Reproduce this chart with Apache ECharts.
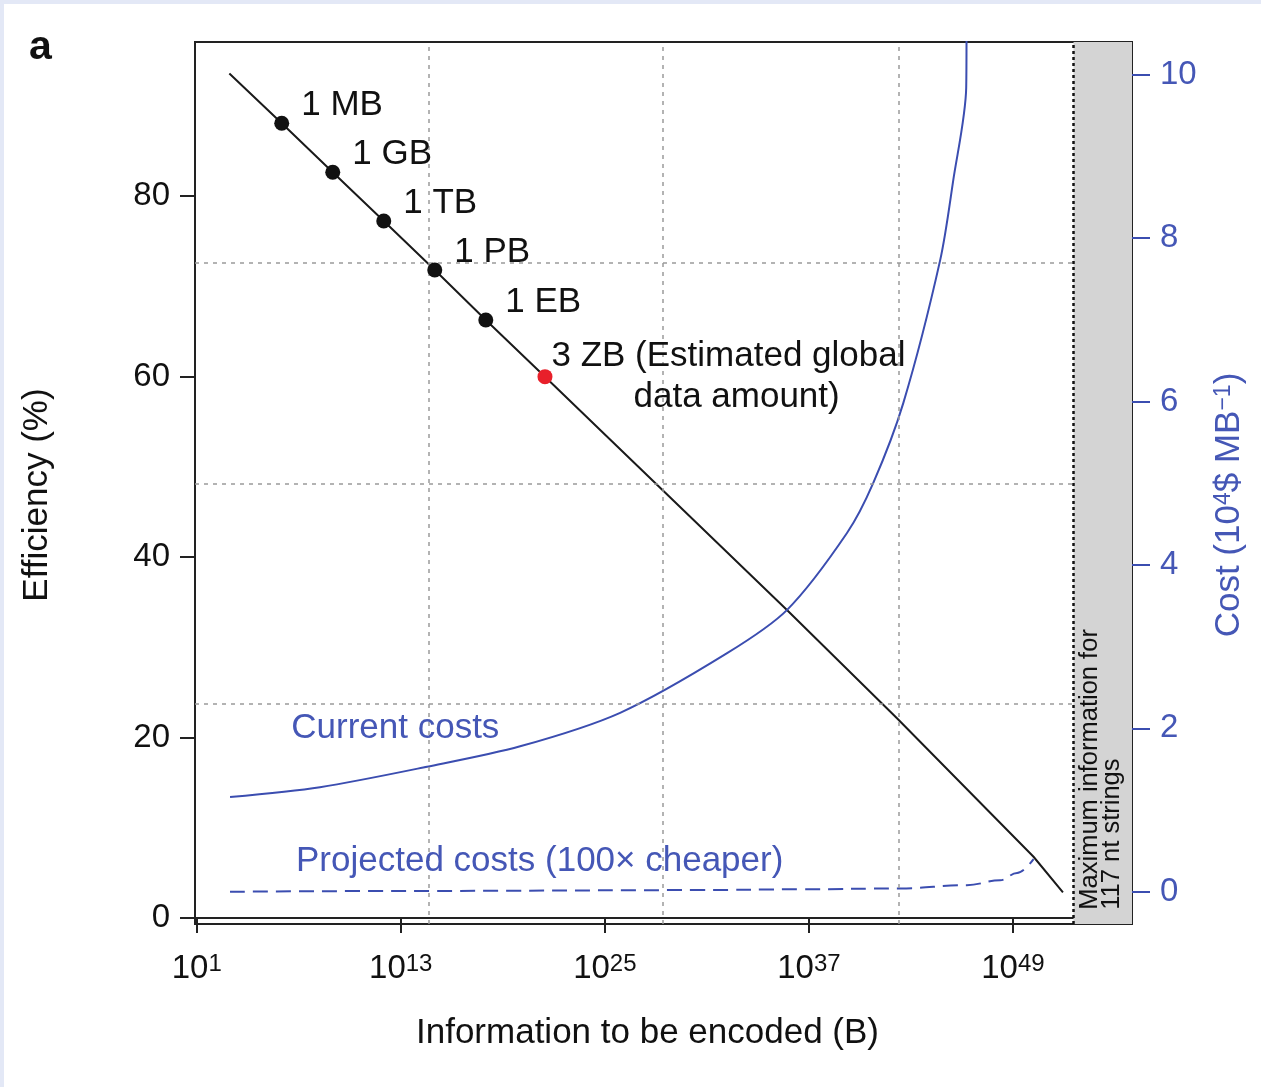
<!DOCTYPE html>
<html>
<head>
<meta charset="utf-8">
<title>Efficiency and cost vs information encoded</title>
<script src="https://cdn.jsdelivr.net/npm/echarts@6/dist/echarts.min.js"></script>
<style>
  html, body { margin: 0; padding: 0; background: #e3e8f6; }
  #panel { position: absolute; left: 4px; top: 4px; right: 0; bottom: 0; background: #fff; }
  #chart { position: absolute; left: 0; top: 0; width: 1261px; height: 1087px; }
</style>
</head>
<body>
<div id="panel"></div>
<div id="chart"></div>
<script>
// x axis holds log10 of bytes
const infoTicks = [1, 13, 25, 37, 49];
const effTicks = [0, 20, 40, 60, 80];
const costTicks = [0, 2, 4, 6, 8, 10];

// efficiency curve (log10 B, %)
const effLogB = [2.92, 6, 9, 12, 15, 18, 21.48, 35.71, 42.18, 50.21, 51.94];
const effPct = [93.57, 88.06, 82.63, 77.23, 71.8, 66.26, 59.98, 34.13, 22.13, 6.79, 2.85];

// marked data sizes on the curve
const sizeNames = ['1 MB', '1 GB', '1 TB', '1 PB', '1 EB', '3 ZB'];
const sizeLogB = [6, 9, 12, 15, 18, 21.48];
const sizeEff = [88.06, 82.63, 77.23, 71.8, 66.26, 59.98];

// current costs (10^4 $ per MB)
const curLogB = [2.96, 8.25, 14.55, 20.02, 25.9, 32.19, 35.72, 39.24, 40.78, 42.55, 44.72, 45.49, 46.25, 46.27];
const curCost = [1.16, 1.28, 1.53, 1.78, 2.19, 2.92, 3.45, 4.39, 5.0, 5.98, 7.73, 8.71, 9.84, 10.6];

// projected costs (100x cheaper)
const projLogB = [2.96, 14.72, 30.61, 36.5, 42.37, 46.29, 48.25, 49.24, 50.21];
const projCost = [0.0, 0.01, 0.02, 0.03, 0.04, 0.08, 0.14, 0.23, 0.40];

// max information for 117 nt strings, and the dotted grid
const maxInfoLogB = 52.56;
const gridLogB = [14.62, 28.39, 42.27];
const gridEff = [72.65, 48.17, 23.71];

const FONT = 'Liberation Sans, Arial, Helvetica, sans-serif';
const INK = '#111111';
const BLUE = '#3b4db0';
const BLUE_TXT = '#4557b6';
const X_MIN = 0.9, X_MAX = 56.0;

const zip = (a, b) => a.map((v, i) => [v, b[i]]);

const dotData = sizeNames.map((n, i) => {
  const last = i === sizeNames.length - 1;
  const item = { name: n, value: [sizeLogB[i], sizeEff[i]] };
  if (last) {
    item.itemStyle = { color: '#e8202a', opacity: 1 };
    item.label = {
      offset: [-1, 0],
      lineHeight: 41,
      formatter: '3 ZB {p|(Estimated global}\n{q|data amount)}',
      rich: {
        p: { fontSize: 35, fontFamily: FONT, color: INK, lineHeight: 41 },
        q: { fontSize: 35, fontFamily: FONT, color: INK, lineHeight: 41, padding: [0, 0, 0, 82] }
      }
    };
  }
  return item;
});

const gridLineStyle = { color: '#9a9a9a', type: [4, 5], width: 1.5 };

const option = {
  animation: false,
  grid: {
    left: 195, right: 129, top: 42, bottom: 163,
    show: true, borderColor: '#222', borderWidth: 2, backgroundColor: 'transparent',
    outerBoundsMode: 'none'
  },
  xAxis: {
    type: 'value', min: X_MIN, max: X_MAX,
    name: 'Information to be encoded (B)', nameLocation: 'middle', nameGap: 92,
    nameTextStyle: { fontSize: 35, fontFamily: FONT, color: INK, padding: [0, 32, 0, 0] },
    axisLine: { show: true, lineStyle: { color: '#222', width: 2 } },
    axisTick: { show: true, customValues: infoTicks, length: 15, lineStyle: { color: '#222', width: 2 } },
    axisLabel: {
      customValues: infoTicks, margin: 28,
      formatter: v => '{b|10}{s|' + v + '}',
      rich: {
        b: { fontSize: 33, fontFamily: FONT, color: INK },
        s: { fontSize: 24, fontFamily: FONT, color: INK, verticalAlign: 'top' }
      }
    },
    splitLine: { show: false }
  },
  yAxis: [
    {
      type: 'value', position: 'left', min: -0.66, max: 97.06,
      name: 'Efficiency (%)', nameLocation: 'middle', nameGap: 140, nameRotate: 90,
      nameTextStyle: { fontSize: 35, fontFamily: FONT, color: INK, padding: [0, 24, 0, 0] },
      axisLine: { show: true, lineStyle: { color: '#222', width: 2 } },
      axisTick: { show: true, customValues: effTicks, length: 15, lineStyle: { color: '#222', width: 2 } },
      axisLabel: { customValues: effTicks, margin: 25, fontSize: 33, fontFamily: FONT, color: INK },
      splitLine: { show: false }
    },
    {
      type: 'value', position: 'right', min: -0.395, max: 10.40,
      name: 'Cost (10{s|4}$ MB{s|−1})', nameLocation: 'middle', nameGap: 80, nameRotate: 90,
      nameTextStyle: {
        fontSize: 35, fontFamily: FONT, color: BLUE_TXT, padding: [0, 44, 0, 0],
        rich: { s: { fontSize: 23, fontFamily: FONT, color: BLUE_TXT, verticalAlign: 'top' } }
      },
      axisLine: { show: true, lineStyle: { color: '#222', width: 2 } },
      axisTick: { show: true, customValues: costTicks, length: 18, lineStyle: { color: BLUE, width: 2 } },
      axisLabel: { customValues: costTicks, margin: 28, fontSize: 33, fontFamily: FONT, color: BLUE_TXT },
      splitLine: { show: false }
    }
  ],
  series: [
    {
      name: 'Efficiency', type: 'line', yAxisIndex: 0, z: 3,
      data: zip(effLogB, effPct), showSymbol: false, symbol: 'none',
      lineStyle: { color: '#1a1a1a', width: 2 },
      markArea: {
        silent: true,
        itemStyle: { color: '#d4d4d4', opacity: 1 },
        data: [[{ xAxis: maxInfoLogB }, { xAxis: X_MAX }]]
      },
      markLine: {
        silent: true, symbol: ['none', 'none'], label: { show: false },
        lineStyle: gridLineStyle,
        data: gridLogB.map(v => ({ xAxis: v }))
          .concat(gridEff.map(v => [{ coord: [X_MIN, v] }, { coord: [maxInfoLogB, v] }]))
      }
    },
    {
      name: 'Current costs', type: 'line', yAxisIndex: 1, z: 4,
      data: zip(curLogB, curCost), showSymbol: false, symbol: 'none',
      smooth: 0.3, clip: true,
      lineStyle: { color: BLUE, width: 2 }
    },
    {
      name: 'Projected costs', type: 'line', yAxisIndex: 1, z: 4,
      data: zip(projLogB, projCost), showSymbol: false, symbol: 'none',
      smooth: 0.4, smoothMonotone: 'x',
      lineStyle: { color: BLUE, width: 2, type: [15, 8] }
    },
    {
      name: 'Sizes', type: 'scatter', yAxisIndex: 0, z: 6,
      symbolSize: 15, itemStyle: { color: '#111', opacity: 1 },
      data: dotData,
      label: {
        show: true, position: 'right', distance: 0, offset: [12, -18],
        formatter: p => p.name, fontSize: 35, fontFamily: FONT, color: INK
      },
      markLine: {
        silent: true, symbol: ['none', 'none'], label: { show: false },
        lineStyle: { color: '#111', type: [3, 3], width: 2.5 },
        data: [{ xAxis: maxInfoLogB }]
      }
    }
  ]
};

const chart = echarts.init(document.getElementById('chart'), null, { renderer: 'canvas' });
chart.setOption(option);

// text annotations placed in data space
const px = (x, y, yi) => chart.convertToPixel({ xAxisIndex: 0, yAxisIndex: yi }, [x, y]);
const curLbl = px(6.56, 2.0, 1);
const projLbl = px(6.84, 0.376, 1);
const maxLbl = px(maxInfoLogB, -0.22, 1);

chart.setOption({
  graphic: [
    {
      type: 'text', left: 29, top: 27,
      style: { text: 'a', fontSize: 41, fontWeight: 'bold', fontFamily: FONT, fill: INK }
    },
    {
      type: 'text', x: curLbl[0], y: curLbl[1], z: 10,
      style: { text: 'Current costs', fontSize: 35, fontFamily: FONT, fill: BLUE_TXT, align: 'left', verticalAlign: 'middle' }
    },
    {
      type: 'text', x: projLbl[0], y: projLbl[1], z: 10,
      style: { text: 'Projected costs (100× cheaper)', fontSize: 35, fontFamily: FONT, fill: BLUE_TXT, align: 'left', verticalAlign: 'middle' }
    },
    {
      type: 'text', x: maxLbl[0] + 5, y: maxLbl[1], rotation: Math.PI / 2, z: 10,
      style: {
        text: 'Maximum information for\n117 nt strings', fontSize: 25.5, lineHeight: 22,
        fontFamily: FONT, fill: INK, align: 'left', verticalAlign: 'top'
      }
    }
  ]
});
</script>
</body>
</html>
